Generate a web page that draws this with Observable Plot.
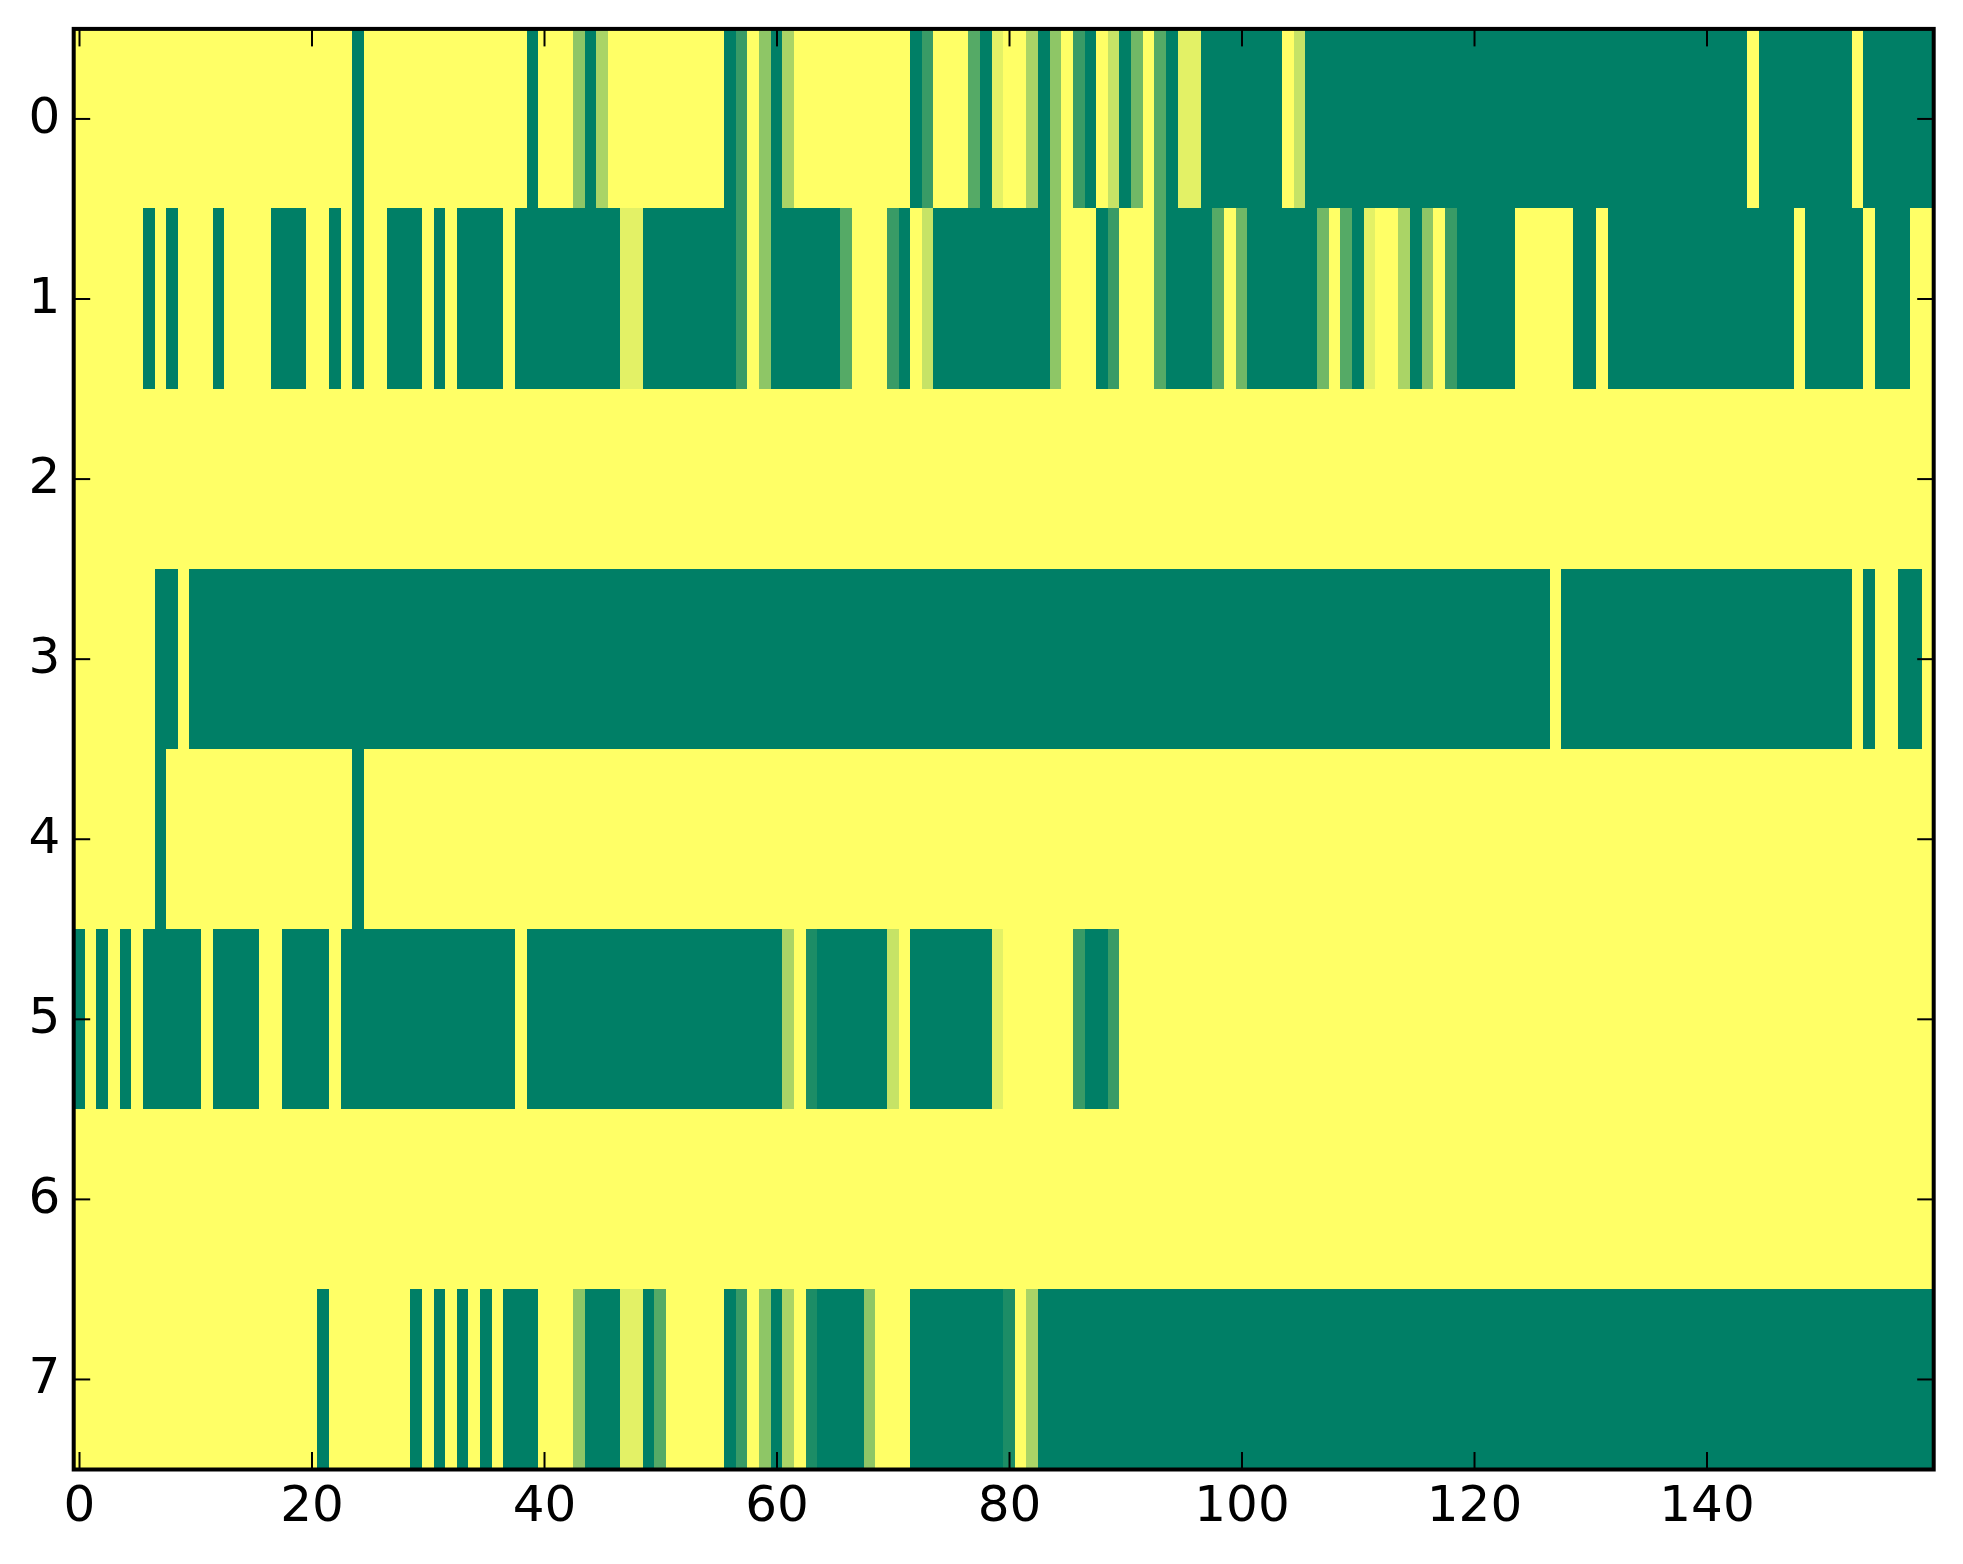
<!DOCTYPE html>
<html>
<head>
<meta charset="utf-8">
<style>
  html, body { margin: 0; padding: 0; background: #fff; }
  svg { display: block; }
</style>
<script src="https://cdn.jsdelivr.net/npm/d3@7"></script>
<script src="https://cdn.jsdelivr.net/npm/@observablehq/plot@0.6"></script>
</head>
<body>
<div id="chart"></div>
<script>
// Each row is a list of runs: level (0 = green ... 9 = yellow), then number of columns.
const row0 = [9,24, 0,1, 9,14, 0,1, 9,3, 5,1, 0,1, 6,1, 9,10, 0,1, 2,1, 9,1, 5,1, 0,1, 6,1, 9,10, 0,1, 2,1, 9,3, 3,1, 0,1, 8,1, 9,2, 6,1, 0,1, 5,1, 9,1, 2,1, 0,1, 9,1, 7,1, 0,1, 4,1, 9,1, 3,1, 0,1, 8,2, 0,7, 9,1, 7,1, 0,38, 9,1, 0,8, 9,1, 0,6];
const row1 = [9,6, 0,1, 9,1, 0,1, 9,3, 0,1, 9,4, 0,3, 9,2, 0,1, 9,1, 0,1, 9,2, 0,3, 9,1, 0,1, 9,1, 0,4, 9,1, 0,9, 8,2, 0,8, 2,1, 9,1, 5,1, 0,6, 3,1, 9,3, 2,1, 0,1, 9,1, 7,1, 0,10, 5,1, 9,3, 0,1, 2,1, 9,3, 3,1, 0,4, 3,1, 9,1, 4,1, 0,6, 4,1, 9,1, 3,1, 0,1, 8,1, 9,2, 6,1, 0,1, 5,1, 9,1, 2,1, 0,5, 9,5, 0,2, 9,1, 0,16, 9,1, 0,5, 9,1, 0,3, 9,2];
const row2 = [9,160];
const row3 = [9,7, 0,2, 9,1, 0,117, 9,1, 0,25, 9,1, 0,1, 9,2, 0,2, 9,1];
const row4 = [9,7, 0,1, 9,16, 0,1, 9,135];
const row5 = [0,1, 9,1, 0,1, 9,1, 0,1, 9,1, 0,5, 9,1, 0,4, 9,2, 0,4, 9,1, 0,15, 9,1, 0,22, 6,1, 9,1, 1,1, 0,6, 7,1, 9,1, 0,7, 8,1, 9,6, 2,1, 0,2, 2,1, 9,70];
const row6 = [9,160];
const row7 = [9,21, 0,1, 9,7, 0,1, 9,1, 0,1, 9,1, 0,1, 9,1, 0,1, 9,1, 0,3, 9,3, 5,1, 0,3, 8,2, 0,1, 3,1, 9,5, 0,1, 2,1, 9,1, 5,1, 0,1, 6,1, 9,1, 1,1, 0,4, 5,1, 9,3, 0,8, 1,1, 9,1, 6,1, 0,77];
const rows = [row0, row1, row2, row3, row4, row5, row6, row7];
const xTicks = [0, 20, 40, 60, 80, 100, 120, 140];
const yTicks = [0, 1, 2, 3, 4, 5, 6, 7];
const colorStops = ["#007f66", "#ffff66"];

const table = [];
rows.forEach((runs, row) => {
  let col = 0;
  for (let i = 0; i < runs.length; i += 2) {
    table.push({row, start: col, end: col + runs[i + 1], level: runs[i]});
    col += runs[i + 1];
  }
});

const tick = {tickSize: -17, strokeWidth: 2, stroke: "#000", text: null, label: null};
const text = {tickSize: 0, fontSize: 50, fill: "#000", label: null};

const chart = Plot.plot({
  width: 1963,
  height: 1564,
  marginLeft: 73.2,
  marginRight: 29.8,
  marginTop: 28.4,
  marginBottom: 95,
  style: {background: "#fff", fontFamily: "'DejaVu Sans'", overflow: "visible"},
  x: {type: "linear", domain: [-0.5, 159.5], axis: null},
  y: {type: "linear", domain: [-0.5, 7.5], reverse: true, axis: null},
  color: {type: "linear", domain: [0, 9], range: colorStops, interpolate: "rgb"},
  marks: [
    Plot.rect(table, {
      x1: d => d.start - 0.5,
      x2: d => d.end - 0.5,
      y1: d => d.row - 0.5,
      y2: d => d.row + 0.5,
      fill: "level",
      shapeRendering: "crispEdges"
    }),
    Plot.axisX(xTicks, {anchor: "bottom", ...tick}),
    Plot.axisX(xTicks, {anchor: "top", ...tick}),
    Plot.axisY(yTicks, {anchor: "left", ...tick}),
    Plot.axisY(yTicks, {anchor: "right", ...tick}),
    Plot.axisX(xTicks, {anchor: "bottom", ...text, tickFormat: "d", tickPadding: 16}),
    Plot.axisY(yTicks, {anchor: "left", ...text, tickFormat: "d", tickPadding: 13.5, dy: -2}),
    Plot.frame({stroke: "#000", strokeWidth: 4, fill: "none"})
  ]
});
document.getElementById("chart").appendChild(chart);
</script>
</body>
</html>
